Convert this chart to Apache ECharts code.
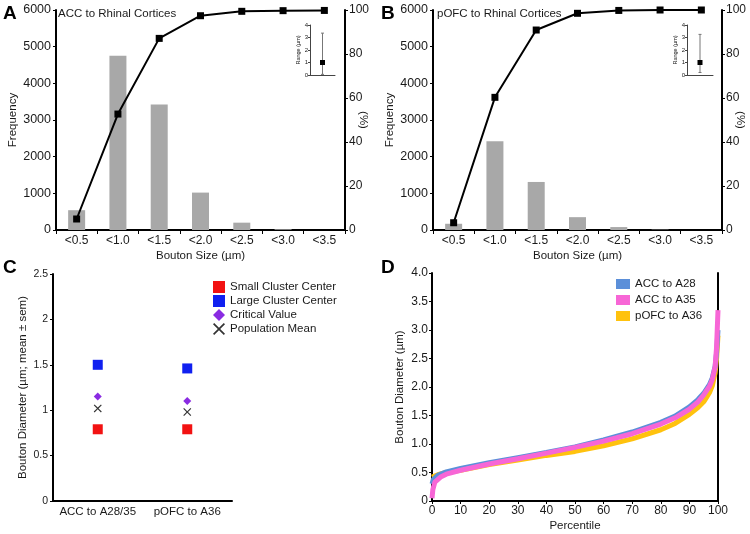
<!DOCTYPE html>
<html><head><meta charset="utf-8">
<script src="https://cdn.jsdelivr.net/npm/echarts@6/dist/echarts.min.js"></script>
<style>html,body{margin:0;padding:0;background:#fff}#c{width:750px;height:534px}</style>
</head><body><div id="c"></div>
<script>
// ---- data ----
const sizeCats = ['<0.5', '<1.0', '<1.5', '<2.0', '<2.5', '<3.0', '<3.5'];
const accFreq = [540, 4750, 3420, 1020, 200, 20, 0];
const accCum = [5.0, 52.7, 87.1, 97.4, 99.4, 99.7, 99.8];
const pofcFreq = [170, 2420, 1310, 350, 80, 10, 0];
const pofcCum = [3.3, 60.3, 90.9, 98.5, 99.8, 100, 100];
// inset: [x, mean, min, max]
const accRange = [1, 1.0, 0.05, 3.35];
const pofcRange = [1, 1.0, 0.2, 3.25];
const groupCats = ['ACC to A28/35', 'pOFC to A36'];
const smallCenter = [0.79, 0.79];
const largeCenter = [1.50, 1.46];
const criticalValue = [1.15, 1.10];
const populationMean = [1.02, 0.98];
const pctA28 = [[0,0.30],[0.5,0.38],[2,0.45],[5,0.51],[10,0.57],[20,0.67],[30,0.76],[40,0.85],[50,0.95],[60,1.07],[70,1.21],[80,1.38],[85,1.49],[90,1.65],[93,1.78],[95,1.89],[97,2.04],[98,2.16],[99,2.36],[99.5,2.6],[100,3.0]];
const pctA35 = [[0,0.05],[0.3,0.2],[1,0.33],[3,0.42],[5,0.47],[10,0.54],[20,0.65],[30,0.74],[40,0.84],[50,0.94],[60,1.05],[70,1.18],[80,1.35],[85,1.46],[90,1.61],[93,1.74],[95,1.86],[97,2.01],[98,2.13],[99,2.36],[99.5,2.7],[100,3.35]];
const pctA36 = [[0,0.42],[2,0.46],[5,0.50],[10,0.54],[20,0.64],[30,0.72],[40,0.80],[50,0.87],[60,0.97],[70,1.09],[80,1.25],[85,1.36],[90,1.52],[93,1.64],[95,1.74],[97,1.90],[98,2.02],[99,2.25],[99.5,2.5],[100,2.9]];

// ---- styles ----
const FF = "'Liberation Sans', Arial, sans-serif";
const TC = '#1a1a1a';
const axLine = (w) => ({show: true, onZero: false, lineStyle: {color: '#000', width: w || 2}});
const tickOut = (l) => ({show: true, inside: false, length: l || 3, lineStyle: {color: '#000', width: 1}});
const lbl = (fs, m) => ({color: TC, fontSize: fs, fontFamily: FF, margin: m});
const nameTS = (fs) => ({color: TC, fontSize: fs || 11.5, fontFamily: FF});
const plain = v => String(v);
const xPath = 'path://M0,1 L1,0 L5,4 L9,0 L10,1 L6,5 L10,9 L9,10 L5,6 L1,10 L0,9 L4,5 Z';

function errRender(params, api) {
  const x = api.value(0), lo = api.value(2), hi = api.value(3);
  const p1 = api.coord([x, lo]), p2 = api.coord([x, hi]);
  const c = 1.5;
  const st = {stroke: '#777', lineWidth: 1};
  return {type: 'group', children: [
    {type: 'line', shape: {x1: p1[0], y1: p1[1], x2: p2[0], y2: p2[1]}, style: st},
    {type: 'line', shape: {x1: p1[0]-c, y1: p1[1], x2: p1[0]+c, y2: p1[1]}, style: st},
    {type: 'line', shape: {x1: p2[0]-c, y1: p2[1], x2: p2[0]+c, y2: p2[1]}, style: st}
  ]};
}

const grids = [
  {left: 56, top: 10, width: 289, height: 220},   // 0 A
  {left: 310, top: 25, width: 25, height: 50},    // 1 A inset
  {left: 433, top: 10, width: 289, height: 220},  // 2 B
  {left: 687, top: 25, width: 26, height: 50},    // 3 B inset
  {left: 53, top: 274, width: 179, height: 227},  // 4 C
  {left: 432, top: 273, width: 286, height: 228}  // 5 D
];

function barX(g) {
  return {gridIndex: g, type: 'category', data: sizeCats, boundaryGap: true,
    axisLine: axLine(2), axisTick: tickOut(4), axisLabel: Object.assign(lbl(12, 5), {interval: 0}),
    name: 'Bouton Size (µm)', nameLocation: 'middle', nameGap: 20, nameMoveOverlap: false, nameTextStyle: nameTS(11.5)};
}
function freqY(g) {
  return {gridIndex: g, type: 'value', min: 0, max: 6000, interval: 1000, position: 'left',
    axisLine: axLine(2), axisTick: tickOut(3), splitLine: {show: false}, axisLabel: Object.assign(lbl(12.5, 5), {formatter: plain}),
    name: 'Frequency', nameLocation: 'middle', nameGap: 37, nameRotate: 90, nameMoveOverlap: false, nameTextStyle: nameTS(11.5)};
}
function pctY(g) {
  return {gridIndex: g, type: 'value', min: 0, max: 100, interval: 20, position: 'right',
    axisLine: axLine(2), axisTick: tickOut(3), splitLine: {show: false}, axisLabel: lbl(12, 4),
    name: '(%)', nameLocation: 'middle', nameGap: 12, nameRotate: -90, nameMoveOverlap: false, nameTextStyle: nameTS(11.5)};
}
function insetX(g) {
  return {gridIndex: g, type: 'value', min: 0, max: 2, axisLine: {show: true, lineStyle: {color: '#444', width: 1}},
    axisTick: {show: false}, axisLabel: {show: false}, splitLine: {show: false}};
}
function insetY(g) {
  return {gridIndex: g, type: 'value', min: 0, max: 4, interval: 1,
    axisLine: {show: true, lineStyle: {color: '#444', width: 1}}, axisTick: {show: true, length: 2, lineStyle: {color: '#444'}},
    splitLine: {show: false}, axisLabel: lbl(6, 2),
    name: 'Range (µm)', nameLocation: 'middle', nameGap: 9, nameRotate: 90, nameMoveOverlap: false, nameTextStyle: nameTS(5.5)};
}

const option = {
  animation: false,
  backgroundColor: '#fff',
  textStyle: {fontFamily: FF},
  title: [
    {text: 'A', left: 3, top: 4, padding: 0, textStyle: {fontSize: 19, fontWeight: 'bold', color: '#000', fontFamily: FF}},
    {text: 'B', left: 381, top: 4, padding: 0, textStyle: {fontSize: 19, fontWeight: 'bold', color: '#000', fontFamily: FF}},
    {text: 'C', left: 3, top: 258, padding: 0, textStyle: {fontSize: 19, fontWeight: 'bold', color: '#000', fontFamily: FF}},
    {text: 'D', left: 381, top: 258, padding: 0, textStyle: {fontSize: 19, fontWeight: 'bold', color: '#000', fontFamily: FF}},
    {text: 'ACC to Rhinal Cortices', left: 58, top: 8, padding: 0, textStyle: {fontSize: 11.5, fontWeight: 'normal', color: TC, fontFamily: FF}},
    {text: 'pOFC to Rhinal Cortices', left: 437, top: 8, padding: 0, textStyle: {fontSize: 11.5, fontWeight: 'normal', color: TC, fontFamily: FF}}
  ],
  legend: [
    {data: [
        {name: 'Small Cluster Center', icon: 'rect'},
        {name: 'Large Cluster Center', icon: 'rect'},
        {name: 'Critical Value', icon: 'diamond'},
        {name: 'Population Mean', icon: xPath}],
     orient: 'vertical', left: 213, top: 281, itemWidth: 12, itemHeight: 12, itemGap: 2,
     selectedMode: false, padding: 0, textStyle: {fontSize: 11.5, color: TC, fontFamily: FF}},
    {data: ['ACC to A28', 'ACC to A35', 'pOFC to A36'], icon: 'rect',
     orient: 'vertical', left: 616, top: 278, itemWidth: 14, itemHeight: 10, itemGap: 4,
     selectedMode: false, padding: 0, textStyle: {fontSize: 11.5, color: TC, fontFamily: FF}}
  ],
  grid: grids,
  xAxis: [
    barX(0), insetX(1), barX(2), insetX(3),
    {gridIndex: 4, type: 'category', data: groupCats, boundaryGap: true,
     axisLine: axLine(2), axisTick: {show: false}, axisLabel: Object.assign(lbl(11.5, 5), {interval: 0})},
    {gridIndex: 5, type: 'value', min: 0, max: 100, interval: 10,
     axisLine: axLine(2), axisTick: tickOut(3), splitLine: {show: false}, axisLabel: lbl(12, 4),
     name: 'Percentile', nameLocation: 'middle', nameGap: 19, nameMoveOverlap: false, nameTextStyle: nameTS(11.5)}
  ],
  yAxis: [
    freqY(0), pctY(0), insetY(1), freqY(2), pctY(2), insetY(3),
    {gridIndex: 4, type: 'value', min: 0, max: 2.5, interval: 0.5,
     axisLine: axLine(2), axisTick: tickOut(3), splitLine: {show: false}, axisLabel: lbl(10.5, 5),
     name: 'Bouton Diameter (µm; mean ± sem)', nameLocation: 'middle', nameGap: 24, nameRotate: 90, nameMoveOverlap: false, nameTextStyle: nameTS(11.5)},
    {gridIndex: 5, type: 'value', min: 0, max: 4, interval: 0.5,
     axisLine: axLine(2), axisTick: tickOut(3), splitLine: {show: false},
     axisLabel: Object.assign(lbl(12, 4), {formatter: v => v === 0 ? '0' : v.toFixed(1)}),
     name: 'Bouton Diameter (µm)', nameLocation: 'middle', nameGap: 26, nameRotate: 90, nameMoveOverlap: false, nameTextStyle: nameTS(11.5)},
    {gridIndex: 5, type: 'value', min: 0, max: 4, position: 'right',
     axisLine: axLine(2), axisTick: {show: false}, axisLabel: {show: false}, splitLine: {show: false}}
  ],
  series: [
    // A
    {type: 'bar', xAxisIndex: 0, yAxisIndex: 0, data: accFreq, barWidth: 17, itemStyle: {color: '#a8a8a8'}, z: 2},
    {type: 'line', xAxisIndex: 0, yAxisIndex: 1, data: accCum, symbol: 'rect', symbolSize: 7,
     lineStyle: {color: '#000', width: 2}, itemStyle: {color: '#000'}, z: 3},
    {type: 'custom', xAxisIndex: 1, yAxisIndex: 2, data: [accRange], renderItem: errRender, z: 3},
    {type: 'scatter', xAxisIndex: 1, yAxisIndex: 2, data: [[accRange[0], accRange[1]]], symbol: 'rect', symbolSize: 5, itemStyle: {color: '#000', opacity: 1}, z: 4},
    // B
    {type: 'bar', xAxisIndex: 2, yAxisIndex: 3, data: pofcFreq, barWidth: 17, itemStyle: {color: '#a8a8a8'}, z: 2},
    {type: 'line', xAxisIndex: 2, yAxisIndex: 4, data: pofcCum, symbol: 'rect', symbolSize: 7,
     lineStyle: {color: '#000', width: 2}, itemStyle: {color: '#000'}, z: 3},
    {type: 'custom', xAxisIndex: 3, yAxisIndex: 5, data: [pofcRange], renderItem: errRender, z: 3},
    {type: 'scatter', xAxisIndex: 3, yAxisIndex: 5, data: [[pofcRange[0], pofcRange[1]]], symbol: 'rect', symbolSize: 5, itemStyle: {color: '#000', opacity: 1}, z: 4},
    // C
    {name: 'Small Cluster Center', type: 'scatter', xAxisIndex: 4, yAxisIndex: 6, data: smallCenter, symbol: 'rect', symbolSize: 10, itemStyle: {color: '#f21212', opacity: 1}},
    {name: 'Large Cluster Center', type: 'scatter', xAxisIndex: 4, yAxisIndex: 6, data: largeCenter, symbol: 'rect', symbolSize: 10, itemStyle: {color: '#1020f0', opacity: 1}},
    {name: 'Critical Value', type: 'scatter', xAxisIndex: 4, yAxisIndex: 6, data: criticalValue, symbol: 'diamond', symbolSize: 8, itemStyle: {color: '#8a2be2', opacity: 1}},
    {name: 'Population Mean', type: 'scatter', xAxisIndex: 4, yAxisIndex: 6, data: populationMean, symbol: xPath, symbolSize: 8, itemStyle: {color: '#333', opacity: 1}},
    // D
    {name: 'pOFC to A36', type: 'line', xAxisIndex: 5, yAxisIndex: 7, data: pctA36, showSymbol: false, symbol: 'none',
     lineStyle: {color: '#ffc20e', width: 5}, itemStyle: {color: '#ffc20e'}, z: 2},
    {name: 'ACC to A28', type: 'line', xAxisIndex: 5, yAxisIndex: 7, data: pctA28, showSymbol: false, symbol: 'none',
     lineStyle: {color: '#5b8fd9', width: 5}, itemStyle: {color: '#5b8fd9'}, z: 3},
    {name: 'ACC to A35', type: 'line', xAxisIndex: 5, yAxisIndex: 7, data: pctA35, showSymbol: false, symbol: 'none',
     lineStyle: {color: '#f766d6', width: 5}, itemStyle: {color: '#f766d6'}, z: 4}
  ]
};
const chart = echarts.init(document.getElementById('c'), null, {renderer: 'canvas'});
chart.setOption(option);
</script></body></html>
